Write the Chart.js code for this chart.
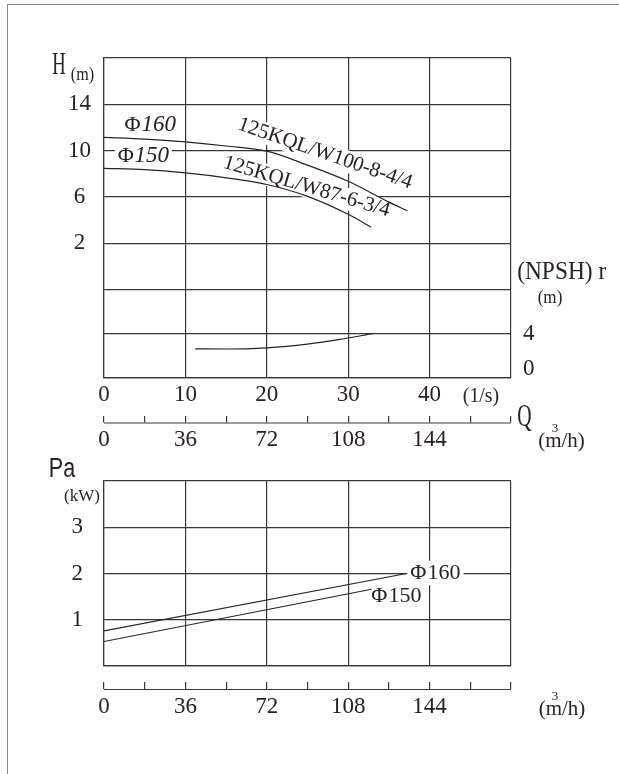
<!DOCTYPE html>
<html>
<head>
<meta charset="utf-8">
<script src="https://cdn.jsdelivr.net/npm/chart.js@4.4.1/dist/chart.umd.min.js"></script>
<style>
  html, body { margin: 0; padding: 0; background: #fff; }
  #frame { position: absolute; left: 7px; top: 4px; width: 700px; height: 800px;
           border-top: 1.5px solid #8c8c8c; border-left: 1.5px solid #8c8c8c; }
  canvas { position: absolute; left: 0; }
  #top { top: 0; }
  #bottom { top: 440px; }
</style>
</head>
<body>
<div id="frame"></div>
<canvas id="top" width="619" height="460"></canvas>
<canvas id="bottom" width="619" height="334"></canvas>
<script>
// Head curves, flow in l/s
const headQ160 = [0, 5, 10, 15, 20, 25, 30, 35, 37.3];
const headH160 = [11.15, 11.0, 10.75, 10.4, 9.95, 8.75, 7.35, 5.55, 4.8];
const headQ150 = [0, 5, 10, 15, 20, 25, 30, 32.8];
const headH150 = [8.47, 8.35, 8.07, 7.65, 7.07, 6.05, 4.5, 3.4];

// NPSHr curve, flow in l/s
const npshQ = [11.2, 15, 20, 25, 29, 33.1];
const npshR = [2.63, 2.62, 2.73, 3.07, 3.5, 4.05];

// Shaft power, flow in m3/h
const powerQ160 = [0, 133.8];
const powerP160 = [0.76, 2.0];
const powerQ150 = [0, 118.3];
const powerP150 = [0.53, 1.66];

// tick values
const headTicks = [18, 14, 10, 6, 2, -2];
const headLabels = [14, 10, 6, 2];
const npshTicks = [0, 4];
const powerLabels = [1, 2, 3];

const INK = '#2a2222';
const GRID = '#3d3636';
const SERIF = '"Liberation Serif", "Times New Roman", serif';
const SANS = '"Liberation Sans", Arial, sans-serif';
const tickFont = { family: SERIF, size: 23 };

const zip = (xs, ys) => xs.map((x, i) => ({ x, y: ys[i] }));

// fixed axis sizes, no extra label padding around the plot
const fixW = w => s => { s.width = w; s.paddingTop = 0; s.paddingBottom = 0; };
const fixH = h => s => { s.height = h; s.paddingLeft = 0; s.paddingRight = 0; };

function put(ctx, pass, it) {
  const size = it.size || 22;
  ctx.save();
  ctx.font = (it.italic ? 'italic ' : '') + size + 'px ' + (it.family || SERIF);
  ctx.textAlign = it.align || 'center';
  ctx.textBaseline = 'middle';
  ctx.translate(it.x, it.y);
  if (it.rot) ctx.rotate(it.rot * Math.PI / 180);
  ctx.scale(it.sx || 1, 1);
  if (pass === 'bg') {
    if (it.bg) {
      const w = ctx.measureText(it.t).width;
      const x0 = ctx.textAlign === 'left' ? 0 : ctx.textAlign === 'right' ? -w : -w / 2;
      ctx.fillStyle = '#fff';
      ctx.fillRect(x0 - it.bg, -size * 0.42 - it.bg, w + 2 * it.bg, size * 0.84 + 2 * it.bg);
    }
  } else {
    ctx.fillStyle = INK;
    ctx.fillText(it.t, 0, 0);
  }
  ctx.restore();
}

// draws the free texts and the second flow axis line
const deco = {
  id: 'deco',
  beforeDatasetsDraw(chart, args, opts) {
    opts.items.forEach(it => put(chart.ctx, 'bg', it));
  },
  afterDatasetsDraw(chart, args, opts) {
    opts.items.forEach(it => put(chart.ctx, 'fg', it));
  },
  afterDraw(chart) {
    const s = chart.scales.x2;
    const ctx = chart.ctx;
    ctx.save();
    ctx.strokeStyle = GRID;
    ctx.lineWidth = 1.2;
    ctx.beginPath();
    ctx.moveTo(s.left, s.top + 7.5);
    ctx.lineTo(s.right, s.top + 7.5);
    ctx.stroke();
    ctx.restore();
  }
};

const curve = {
  borderColor: INK, borderWidth: 1.2, pointRadius: 0,
  cubicInterpolationMode: 'monotone', fill: false
};

const flowAxisM3 = {
  type: 'linear', position: 'bottom', weight: 1, min: 0, max: 180,
  ticks: {
    stepSize: 18, padding: 4, autoSkip: false, maxRotation: 0,
    font: tickFont, color: INK,
    callback: v => (v % 36 === 0 && v < 180) ? v : ''
  },
  grid: { drawOnChartArea: false, tickLength: 7, color: GRID, lineWidth: 1.2 },
  border: { display: false }
};

new Chart(document.getElementById('top'), {
  type: 'line',
  data: {
    datasets: [
      { ...curve, label: 'Φ160', data: zip(headQ160, headH160), yAxisID: 'y' },
      { ...curve, label: 'Φ150', data: zip(headQ150, headH150), yAxisID: 'y' },
      { ...curve, label: '(NPSH)r', data: zip(npshQ, npshR), yAxisID: 'y1' }
    ]
  },
  options: {
    responsive: false, animation: false, devicePixelRatio: 1,
    layout: { padding: { top: 58, left: 0, right: 0, bottom: 0 } },
    plugins: {
      legend: { display: false }, tooltip: { enabled: false },
      deco: {
        items: [
          { t: 'H', x: 59, y: 65.5, size: 31, sx: 0.6 },
          { t: '(m)', x: 82.5, y: 75, size: 19, sx: 0.85 },
          { t: 'Φ', x: 132.5, y: 125, size: 22 },
          { t: '160', x: 141.5, y: 125, size: 23, italic: true, align: 'left' },
          { t: 'Φ', x: 125.8, y: 156, size: 22, bg: 3 },
          { t: '150', x: 134.5, y: 156, size: 23, italic: true, align: 'left', bg: 3 },
          { t: '125KQL/W100-8-4/4', x: 325, y: 153.7, size: 21, rot: 19, bg: 2 },
          { t: '125KQL/W87-6-3/4', x: 306.7, y: 186.7, size: 21, rot: 16.5, bg: 2 },
          { t: '(1/s)', x: 481, y: 396.5, size: 22, sx: 0.9 },
          { t: 'Q', x: 524.3, y: 418, size: 32, sx: 0.62 },
          { t: '(m/h)', x: 561.5, y: 441, size: 21 },
          { t: '3', x: 555, y: 429, size: 13 },
          { t: '(NPSH) r', x: 561.7, y: 271.7, size: 26, sx: 0.9 },
          { t: '(m)', x: 550, y: 298, size: 19, sx: 0.9 }
        ]
      }
    },
    scales: {
      x: {
        type: 'linear', position: 'bottom', weight: 0, min: 0, max: 50,
        ticks: {
          stepSize: 10, padding: 4, autoSkip: false, maxRotation: 0,
          font: tickFont, color: INK, callback: v => v < 50 ? v : ''
        },
        grid: { color: GRID, lineWidth: 1.2, drawTicks: false },
        border: { color: GRID, width: 1.2 },
        afterFit: fixH(38)
      },
      x2: { ...flowAxisM3, afterFit: fixH(44.5) },
      y: {
        type: 'linear', position: 'left', min: -9.6, max: 18,
        afterBuildTicks: s => { s.ticks = headTicks.map(v => ({ value: v })); },
        ticks: {
          padding: 13, crossAlign: 'center', font: tickFont, color: INK,
          callback: v => headLabels.includes(v) ? v : ''
        },
        grid: { color: GRID, lineWidth: 1.2, drawTicks: false },
        border: { color: GRID, width: 1.2 },
        afterFit: fixW(104)
      },
      y1: {
        type: 'linear', position: 'right', min: 0, max: 29.38,
        afterBuildTicks: s => { s.ticks = npshTicks.map(v => ({ value: v })); },
        ticks: {
          padding: 12, font: { ...tickFont, lineHeight: 0.75 }, color: INK,
          // the 0 sits a little above its line in the original
          callback: v => v === 0 ? ['0', ''] : String(v)
        },
        grid: { color: GRID, lineWidth: 1.2, drawTicks: false },
        border: { display: false },
        afterFit: fixW(108)
      }
    }
  },
  plugins: [deco]
});

new Chart(document.getElementById('bottom'), {
  type: 'line',
  data: {
    datasets: [
      { ...curve, label: 'Φ160', data: zip(powerQ160, powerP160) },
      { ...curve, label: 'Φ150', data: zip(powerQ150, powerP150) }
    ]
  },
  options: {
    responsive: false, animation: false, devicePixelRatio: 1,
    layout: { padding: { top: 41, left: 0, right: 108, bottom: 0 } },
    plugins: {
      legend: { display: false }, tooltip: { enabled: false },
      deco: {
        items: [
          { t: 'Pa', x: 62, y: 30, size: 27, sx: 0.8, family: SANS },
          { t: '(kW)', x: 82, y: 57, size: 17 },
          { t: 'Φ', x: 418.3, y: 133, size: 22, bg: 3 },
          { t: '160', x: 427.5, y: 133, size: 22, align: 'left', bg: 3 },
          { t: 'Φ', x: 379.2, y: 156.7, size: 22 },
          { t: '150', x: 388.5, y: 156.7, size: 22, align: 'left' },
          { t: '(m/h)', x: 562, y: 269, size: 21 },
          { t: '3', x: 555, y: 257, size: 13 }
        ]
      }
    },
    scales: {
      x: {
        type: 'linear', position: 'bottom', weight: 0, min: 0, max: 180,
        ticks: { stepSize: 36, display: false },
        grid: { color: GRID, lineWidth: 1.2, drawTicks: false },
        border: { color: GRID, width: 1.2 },
        afterFit: fixH(16)
      },
      x2: { ...flowAxisM3, afterFit: fixH(92) },
      y: {
        type: 'linear', position: 'left', min: 0, max: 4,
        ticks: {
          stepSize: 1, padding: 21, crossAlign: 'center', font: tickFont, color: INK,
          callback: v => powerLabels.includes(v) ? v : ''
        },
        grid: { color: GRID, lineWidth: 1.2, drawTicks: false },
        border: { color: GRID, width: 1.2 },
        afterFit: fixW(104)
      }
    }
  },
  plugins: [deco]
});
</script>
</body>
</html>
